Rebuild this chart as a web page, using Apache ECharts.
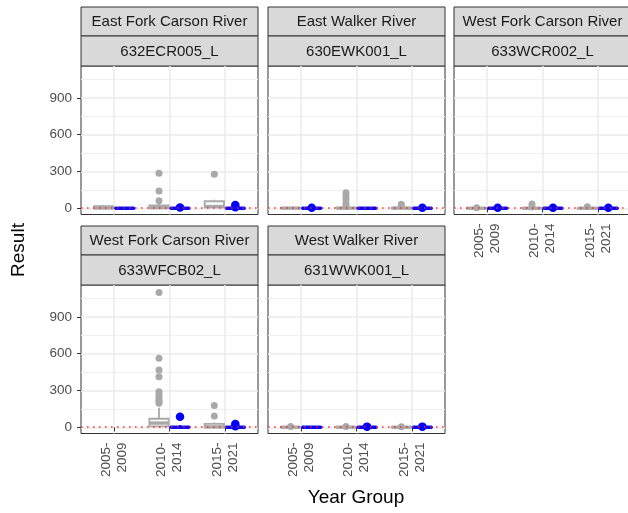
<!DOCTYPE html>
<html><head><meta charset="utf-8">
<script src="https://cdn.jsdelivr.net/npm/echarts@6/dist/echarts.min.js"></script>
<style>html,body{margin:0;padding:0;background:#fff}#c{width:628px;height:513px}</style>
</head><body><div id="c"></div>
<script>
// ---------------- data ----------------
const yearGroups = ['2005-\n2009', '2010-\n2014', '2015-\n2021'];
const rivers = ['East Fork Carson River', 'East Walker River', 'West Fork Carson River', 'West Fork Carson River', 'West Walker River'];
const stations = ['632ECR005_L', '630EWK001_L', '633WCR002_L', '633WFCB02_L', '631WWK001_L'];
const yTicks = [0, 300, 600, 900];
const refValue = 1;

// box stats per year group: [min, Q1, median, Q3, max]; null = no data
const ecrGrey = [[0, 1, 4, 18, 25], [0, 2, 6, 25, 40], [2, 9, 15, 58, 70]];
const ecrGreyOut = [[], [286, 142, 63], [278]];
const ecrBlue = [[0, 1, 1, 2, 3], [0, 1, 1, 2, 3], [0, 1, 1, 2, 4]];
const ecrBlueOut = [[], [8], [10, 28]];

const ewkGrey = [[0, 1, 2, 4, 6], [0, 1, 2, 5, 9], [0, 1, 2, 5, 8]];
const ewkGreyOut = [[], [128, 101, 74, 42, 20], [33, 18]];
const ewkBlue = [[0, 1, 1, 2, 3], [0, 1, 1, 2, 3], [0, 1, 1, 2, 3]];
const ewkBlueOut = [[5], [], [5]];

const wcrGrey = [[0, 1, 1, 2, 3], [0, 1, 1, 3, 5], [0, 1, 1, 2, 3]];
const wcrGreyOut = [[6], [36, 12], [14]];
const wcrBlue = [[0, 1, 1, 2, 3], [0, 1, 1, 2, 3], [0, 1, 1, 2, 3]];
const wcrBlueOut = [[5], [5], [5]];

const wfcGrey = [null, [0, 8, 35, 70, 160], [0, 1, 4, 28, 40]];
const wfcGreyOut = [[], [1098, 563, 468, 413, 290, 265, 245, 225, 210, 196], [178, 92]];
const wfcBlue = [null, [0, 1, 1, 3, 20], [0, 1, 1, 2, 4]];
const wfcBlueOut = [[], [87], [28, 10]];

const wwkGrey = [[0, 1, 1, 2, 3], [0, 1, 1, 2, 3], [0, 1, 1, 2, 3]];
const wwkGreyOut = [[8], [8], [6]];
const wwkBlue = [[0, 1, 1, 2, 3], [0, 1, 1, 2, 3], [0, 1, 1, 2, 3]];
const wwkBlueOut = [[], [6], [6]];

// ---------------- layout / style ----------------
const panels = [
  { grey: ecrGrey, greyOut: ecrGreyOut, blue: ecrBlue, blueOut: ecrBlueOut },
  { grey: ewkGrey, greyOut: ewkGreyOut, blue: ewkBlue, blueOut: ewkBlueOut },
  { grey: wcrGrey, greyOut: wcrGreyOut, blue: wcrBlue, blueOut: wcrBlueOut },
  { grey: wfcGrey, greyOut: wfcGreyOut, blue: wfcBlue, blueOut: wfcBlueOut },
  { grey: wwkGrey, greyOut: wwkGreyOut, blue: wwkBlue, blueOut: wwkBlueOut }
];
const layout = [
  { left: 81, top: 66, yLab: true, xLab: false },
  { left: 268, top: 66, yLab: false, xLab: false },
  { left: 454, top: 66, yLab: false, xLab: true },
  { left: 81, top: 285, yLab: true, xLab: true },
  { left: 268, top: 285, yLab: false, xLab: true }
];
const W = 177, H = 148.5;
const GREY = '#A9A9A9', BLUE = '#0000FF';
const DODGE = 0.19, BOX_W = 0.35;
const FONT = '"Liberation Sans", Arial, sans-serif';
const xTickVals = yearGroups.map((_, i) => i + 1);

function boxRenderer(color) {
  return function (params, api) {
    const x = api.value(0);
    const pMin = api.coord([x, api.value(1)]);
    const pQ1 = api.coord([x, api.value(2)]);
    const pMed = api.coord([x, api.value(3)]);
    const pQ3 = api.coord([x, api.value(4)]);
    const pMax = api.coord([x, api.value(5)]);
    const w = api.size([BOX_W, 0])[0];
    const cx = pMed[0];
    const ls = { stroke: color, lineWidth: 1.8, fill: null };
    return {
      type: 'group',
      children: [
        { type: 'line', shape: { x1: cx, y1: pQ3[1], x2: cx, y2: pMax[1] }, style: ls },
        { type: 'line', shape: { x1: cx, y1: pQ1[1], x2: cx, y2: pMin[1] }, style: ls },
        { type: 'rect', shape: { x: cx - w / 2, y: pQ3[1], width: w, height: Math.max(pQ1[1] - pQ3[1], 0.3) },
          style: { stroke: color, lineWidth: 1.8, fill: '#fff' } },
        { type: 'line', shape: { x1: cx - w / 2, y1: pMed[1], x2: cx + w / 2, y2: pMed[1] },
          style: { stroke: color, lineWidth: 3.4, fill: null } }
      ]
    };
  };
}

const grids = [], xAxes = [], yAxes = [], series = [], graphics = [];
layout.forEach((L, i) => {
  grids.push({ left: L.left, top: L.top, width: W, height: H, show: true, borderColor: '#333333', borderWidth: 1,
    backgroundColor: '#fff', containLabel: false, outerBoundsMode: 'none' });
  xAxes.push({
    gridIndex: i, type: 'value', min: 0.4, max: 3.6,
    axisLine: { show: false },
    axisTick: { show: L.xLab, customValues: xTickVals, length: 4, lineStyle: { color: '#333333', width: 1 } },
    axisLabel: { show: L.xLab, customValues: xTickVals, rotate: 90, margin: 9, color: '#4D4D4D', fontSize: 13.5,
      lineHeight: 16, fontFamily: FONT, formatter: v => yearGroups[Math.round(v) - 1] },
    splitLine: { show: true, lineStyle: { color: '#EBEBEB', width: 1.5 } }
  });
  yAxes.push({
    gridIndex: i, type: 'value', min: -50, max: 1160, splitNumber: 4,
    axisLine: { show: false },
    axisTick: { show: L.yLab, customValues: yTicks, length: 4, lineStyle: { color: '#333333', width: 1 } },
    axisLabel: { show: L.yLab, customValues: yTicks, margin: 9, color: '#4D4D4D', fontSize: 13.5, fontFamily: FONT },
    splitLine: { show: true, lineStyle: { color: '#EBEBEB', width: 1.5 } },
    minorTick: { show: false, splitNumber: 2 },
    minorSplitLine: { show: true, lineStyle: { color: '#F0F0F0', width: 1 } }
  });
  const P = panels[i];
  const boxData = (arr, off) => arr.map((s, g) => s ? [g + 1 + off].concat(s) : null).filter(d => d);
  const outData = (arr, off) => arr.flatMap((vals, g) => vals.map(v => [g + 1 + off, v]));
  series.push({ type: 'custom', xAxisIndex: i, yAxisIndex: i, renderItem: boxRenderer(GREY),
    encode: { x: 0, y: [1, 2, 3, 4, 5] }, data: boxData(P.grey, -DODGE), silent: true });
  series.push({ type: 'scatter', xAxisIndex: i, yAxisIndex: i, symbolSize: 7, itemStyle: { color: GREY, opacity: 1 },
    data: outData(P.greyOut, -DODGE), silent: true });
  series.push({ type: 'custom', xAxisIndex: i, yAxisIndex: i, renderItem: boxRenderer(BLUE),
    encode: { x: 0, y: [1, 2, 3, 4, 5] }, data: boxData(P.blue, DODGE), silent: true });
  series.push({ type: 'scatter', xAxisIndex: i, yAxisIndex: i, symbolSize: 8.5, itemStyle: { color: BLUE, opacity: 1 },
    data: outData(P.blueOut, DODGE), silent: true,
    markLine: { silent: true, symbol: 'none', label: { show: false }, animation: false,
      lineStyle: { color: '#FF2020', type: [1.6, 4.4], width: 1.7, opacity: 0.9 },
      data: [{ yAxis: refValue }] } });

  // facet strips
  graphics.push({ type: 'rect', shape: { x: L.left, y: L.top - 59, width: W, height: 29 },
    style: { fill: '#D9D9D9', stroke: '#333333', lineWidth: 1 } });
  graphics.push({ type: 'rect', shape: { x: L.left, y: L.top - 30, width: W, height: 30 },
    style: { fill: '#D9D9D9', stroke: '#333333', lineWidth: 1 } });
  graphics.push({ type: 'text', x: L.left + W / 2, y: L.top - 44, style: { text: rivers[i], fill: '#1A1A1A',
    font: '15px ' + FONT, textAlign: 'center', textVerticalAlign: 'middle', align: 'center', verticalAlign: 'middle' } });
  graphics.push({ type: 'text', x: L.left + W / 2, y: L.top - 14.5, style: { text: stations[i], fill: '#1A1A1A',
    font: '15px ' + FONT, textAlign: 'center', textVerticalAlign: 'middle', align: 'center', verticalAlign: 'middle' } });
});
graphics.push({ type: 'text', x: 19, y: 250, rotation: Math.PI / 2, style: { text: 'Result', fill: '#000',
  font: '19px ' + FONT, textAlign: 'center', textVerticalAlign: 'middle', align: 'center', verticalAlign: 'middle' } });
graphics.push({ type: 'text', x: 356, y: 498, style: { text: 'Year Group', fill: '#000',
  font: '19px ' + FONT, textAlign: 'center', textVerticalAlign: 'middle', align: 'center', verticalAlign: 'middle' } });

const chart = echarts.init(document.getElementById('c'), null, { renderer: 'canvas' });
chart.setOption({
  animation: false,
  backgroundColor: '#fff',
  grid: grids, xAxis: xAxes, yAxis: yAxes, series: series, graphic: graphics
});
</script></body></html>
